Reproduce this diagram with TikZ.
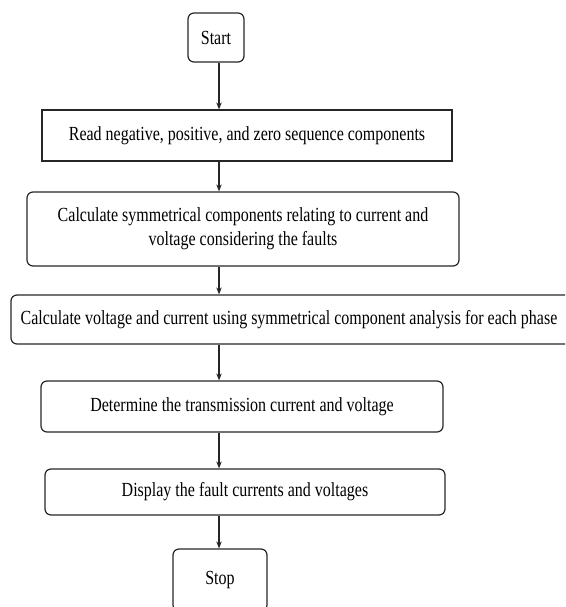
\documentclass[tikz,border=0pt]{standalone}
\usepackage{fontspec}
\setmainfont{Liberation Serif}[FakeStretch=0.8]
\usetikzlibrary{arrows.meta}

\begin{document}
\begin{tikzpicture}[x=1pt, y=-1pt, >={Stealth[length=7pt, width=5.5pt]},
    box/.style={draw=black!85, line width=1.2pt, align=center, inner sep=0pt,
        font=\fontsize{20}{24}\selectfont},
    rbox/.style={box, rounded corners=6pt}]
    % 画布范围
    \useasboundingbox (0,0) rectangle (565,607);
    \clip (0,0) rectangle (565,607);

    % 箭头所在的竖线
    \coordinate (spine) at (219,0);

    % 流程框
    \node[rbox, minimum width=56pt, minimum height=49pt] (start) at (216,37.5) {Start};
    \node[box, minimum width=410pt, minimum height=51pt] (read) at (247,135.5)
        {Read negative, positive, and zero sequence components};
    \node[rbox, minimum width=432pt, minimum height=74pt] (sym) at (243,229)
        {Calculate symmetrical components relating to current and\\
         voltage considering the faults};
    \node[rbox, minimum width=566pt, minimum height=49pt] (phase) at (294,319.5)
        {\hspace*{-10pt}Calculate voltage and current using symmetrical component analysis for each phase};
    \node[rbox, minimum width=402pt, minimum height=51pt] (trans) at (242,406.5)
        {Determine the transmission current and voltage};
    \node[rbox, minimum width=400pt, minimum height=46pt] (disp) at (245,492)
        {Display the fault currents and voltages};
    \node[rbox, minimum width=94pt, minimum height=62pt] (stop) at (220,580) {Stop};

    % 连接箭头
    \foreach \a/\b in {start/read, read/sym, sym/phase, phase/trans, trans/disp, disp/stop}
        \draw[->, line width=1.2pt, black!85] (\a.south -| spine) -- (\b.north -| spine);
\end{tikzpicture}
\end{document}
